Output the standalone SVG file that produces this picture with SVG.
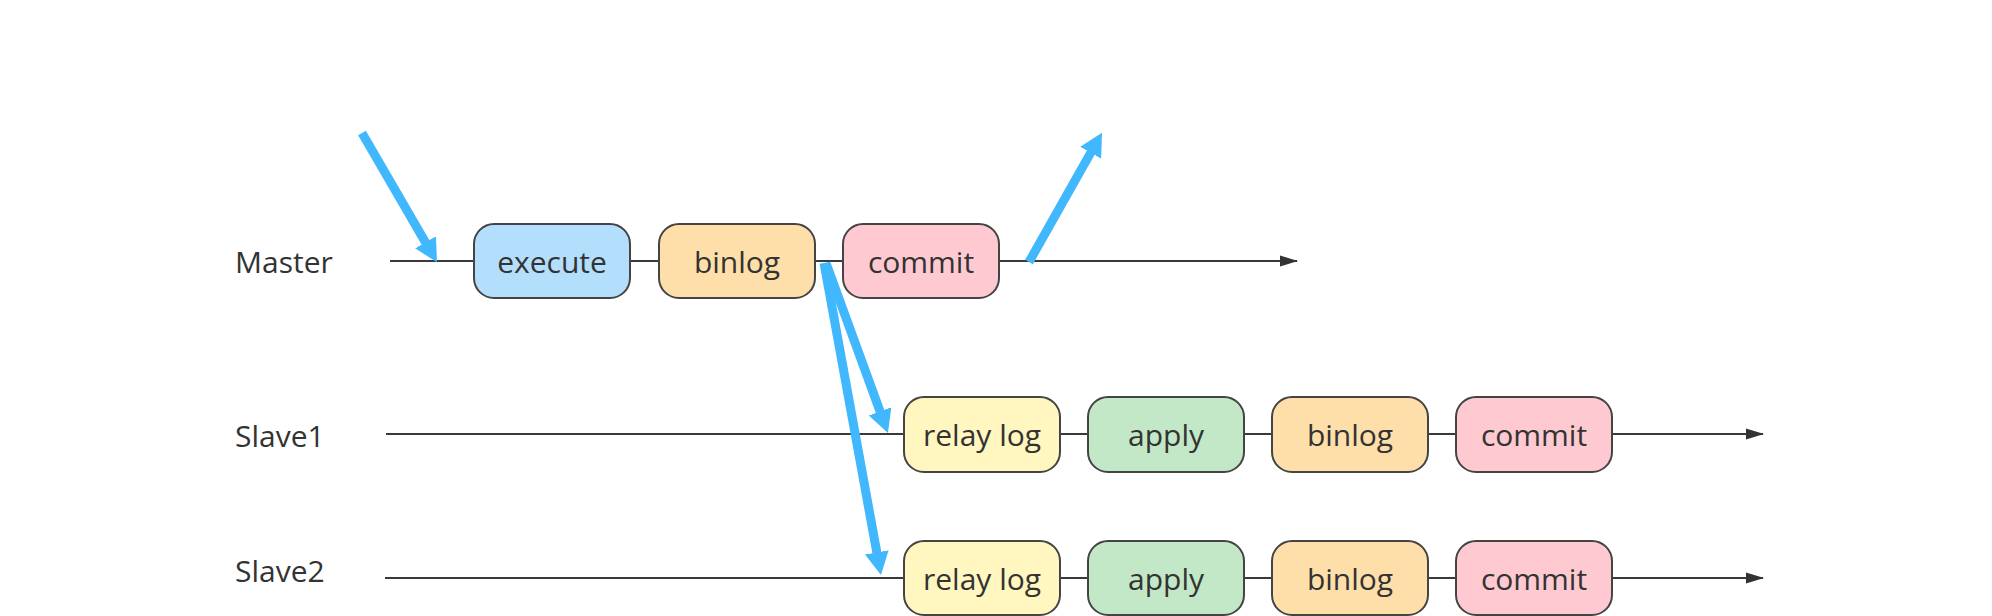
<svg xmlns="http://www.w3.org/2000/svg" width="1992" height="616" viewBox="0 0 1992 616">
<style>
text{font-family:"Open Sans","Noto Sans","Liberation Sans",sans-serif;font-size:30px;fill:#333;}
.box text{text-anchor:middle;}
.box rect{stroke:#444;stroke-width:2;}
.tl{stroke:#3a3a3a;stroke-width:2;fill:none;}
.blue{stroke:#41B7FD;stroke-width:9;fill:none;}
.exe{fill:#B3DFFD;}.bin{fill:#FFDFA9;}.com{fill:#FFC9D1;}.rel{fill:#FFF7BF;}.app{fill:#C2E8C8;}
</style>
<defs>
<marker id="ah" markerUnits="userSpaceOnUse" markerWidth="18" markerHeight="12" viewBox="0 0 18 12" refX="17" refY="6" orient="auto"><path d="M0,0.5 L18,6 L0,11.5 z" fill="#333"/></marker>
<marker id="bh" markerUnits="userSpaceOnUse" markerWidth="26" markerHeight="26" viewBox="0 -13 26 26" refX="1" refY="0" orient="auto"><path d="M0,-12 L23,0 L0,12 z" fill="#41B7FD"/></marker>
</defs>
<g id="timelines">
<line class="tl" x1="390" y1="261" x2="1297" y2="261" marker-end="url(#ah)"/>
<line class="tl" x1="386" y1="434" x2="1763" y2="434" marker-end="url(#ah)"/>
<line class="tl" x1="385" y1="578" x2="1763" y2="578" marker-end="url(#ah)"/>
</g>
<g id="labels">
<text x="235" y="273">Master</text>
<text x="235" y="447">Slave1</text>
<text x="235" y="582">Slave2</text>
</g>
<g id="m-execute" class="box"><rect class="exe" x="474" y="224" width="156" height="74" rx="20"/><text x="552" y="273">execute</text></g>
<g id="m-binlog" class="box"><rect class="bin" x="659" y="224" width="156" height="74" rx="20"/><text x="737" y="273">binlog</text></g>
<g id="m-commit" class="box"><rect class="com" x="843" y="224" width="156" height="74" rx="20"/><text x="921" y="273">commit</text></g>
<g id="s1-relay" class="box"><rect class="rel" x="904" y="397" width="156" height="75" rx="20"/><text x="982" y="446">relay log</text></g>
<g id="s1-apply" class="box"><rect class="app" x="1088" y="397" width="156" height="75" rx="20"/><text x="1166" y="446">apply</text></g>
<g id="s1-binlog" class="box"><rect class="bin" x="1272" y="397" width="156" height="75" rx="20"/><text x="1350" y="446">binlog</text></g>
<g id="s1-commit" class="box"><rect class="com" x="1456" y="397" width="156" height="75" rx="20"/><text x="1534" y="446">commit</text></g>
<g id="s2-relay" class="box"><rect class="rel" x="904" y="541" width="156" height="74" rx="20"/><text x="982" y="590">relay log</text></g>
<g id="s2-apply" class="box"><rect class="app" x="1088" y="541" width="156" height="74" rx="20"/><text x="1166" y="590">apply</text></g>
<g id="s2-binlog" class="box"><rect class="bin" x="1272" y="541" width="156" height="74" rx="20"/><text x="1350" y="590">binlog</text></g>
<g id="s2-commit" class="box"><rect class="com" x="1456" y="541" width="156" height="74" rx="20"/><text x="1534" y="590">commit</text></g>
<g id="connectors">
<line class="blue" x1="362" y1="133" x2="426" y2="243.2" marker-end="url(#bh)"/>
<line class="blue" x1="1029" y1="262" x2="1091.2" y2="151.9" marker-end="url(#bh)"/>
<line class="blue" x1="826" y1="263" x2="880.4" y2="412.4" marker-end="url(#bh)"/>
<line class="blue" x1="824" y1="263" x2="877" y2="553.4" marker-end="url(#bh)"/>
</g>
</svg>
